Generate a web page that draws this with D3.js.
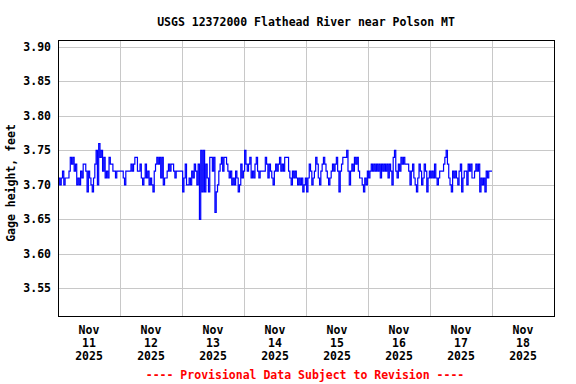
<!DOCTYPE html>
<html>
<head>
<meta charset="utf-8">
<script src="https://cdn.jsdelivr.net/npm/d3@7"></script>
<style>
  html, body { margin: 0; padding: 0; background: #fff; }
  svg { display: block; }
  text { font-family: "DejaVu Sans Mono", "Liberation Mono", monospace; font-weight: bold; font-size: 11.5px; fill: #000; }
</style>
</head>
<body>
<svg id="chart" width="576" height="384"></svg>
<script>
// ---- data (30-minute gage height readings, feet) ----
const startTime = "2025-11-11T00:00:00";
const nov11 = [3.70,3.71,3.70,3.71,3.72,3.70,3.71,3.71,3.71,3.72,
               3.74,3.73,3.74,3.72,3.73,3.70,3.71,3.70,3.72,3.71,
               3.73,3.73,3.72,3.69,3.72,3.71,3.70,3.69,3.71,3.73,
               3.75,3.70,3.76,3.74,3.75,3.72,3.74,3.71,3.72,3.71,
               3.74,3.73,3.73,3.72,3.72,3.71,3.72,3.72];
const nov12 = [3.72,3.72,3.72,3.71,3.70,3.72,3.72,3.72,3.72,3.73,
               3.72,3.73,3.74,3.74,3.72,3.72,3.73,3.71,3.70,3.71,
               3.73,3.71,3.72,3.70,3.71,3.70,3.69,3.72,3.73,3.74,
               3.73,3.74,3.71,3.74,3.70,3.71,3.71,3.72,3.73,3.72,
               3.73,3.73,3.72,3.71,3.72,3.72,3.72,3.72];
const nov13 = [3.72,3.69,3.71,3.73,3.70,3.70,3.71,3.70,3.72,3.71,
               3.73,3.72,3.70,3.73,3.65,3.75,3.69,3.75,3.69,3.73,
               3.71,3.69,3.74,3.74,3.72,3.74,3.66,3.69,3.70,3.72,
               3.73,3.74,3.72,3.74,3.74,3.73,3.72,3.71,3.72,3.70,
               3.71,3.70,3.72,3.71,3.69,3.70,3.73,3.71];
const nov14 = [3.72,3.75,3.73,3.72,3.73,3.74,3.71,3.72,3.71,3.73,
               3.74,3.72,3.71,3.72,3.72,3.72,3.72,3.74,3.73,3.71,
               3.73,3.72,3.71,3.70,3.72,3.73,3.72,3.73,3.74,3.72,
               3.73,3.72,3.74,3.74,3.74,3.72,3.71,3.70,3.72,3.71,
               3.72,3.71,3.70,3.71,3.70,3.71,3.69,3.70];
const nov15 = [3.71,3.69,3.71,3.73,3.72,3.70,3.71,3.72,3.74,3.73,
               3.71,3.70,3.72,3.73,3.74,3.73,3.72,3.71,3.70,3.71,
               3.72,3.73,3.72,3.73,3.74,3.72,3.69,3.72,3.73,3.74,
               3.74,3.74,3.75,3.72,3.70,3.72,3.73,3.72,3.74,3.73,
               3.74,3.72,3.71,3.71,3.70,3.69,3.71,3.70];
const nov16 = [3.72,3.71,3.72,3.73,3.72,3.73,3.72,3.73,3.72,3.73,
               3.71,3.73,3.72,3.73,3.72,3.73,3.71,3.73,3.72,3.70,
               3.74,3.75,3.72,3.71,3.73,3.72,3.74,3.73,3.74,3.73,
               3.73,3.73,3.72,3.70,3.72,3.73,3.71,3.70,3.69,3.71,
               3.73,3.72,3.70,3.71,3.73,3.72,3.69,3.71];
const nov17 = [3.72,3.71,3.72,3.71,3.73,3.71,3.70,3.71,3.72,3.72,
               3.72,3.73,3.74,3.75,3.73,3.71,3.70,3.69,3.72,3.71,
               3.72,3.71,3.70,3.72,3.73,3.69,3.71,3.72,3.72,3.70,
               3.73,3.72,3.73,3.71,3.71,3.72,3.73,3.72,3.73,3.69,
               3.71,3.70,3.71,3.69,3.72,3.71,3.72,3.72,3.72];

const yTicks = [3.55, 3.60, 3.65, 3.70, 3.75, 3.80, 3.85, 3.90];
const xMonths = ["Nov","Nov","Nov","Nov","Nov","Nov","Nov","Nov"];
const xDays   = ["11","12","13","14","15","16","17","18"];
const xYears  = ["2025","2025","2025","2025","2025","2025","2025","2025"];
const titleText = "USGS 12372000 Flathead River near Polson MT";
const yTitle = "Gage height, feet";
const footText = "---- Provisional Data Subject to Revision ----";

// ---- build series ----
const values = [].concat(nov11, nov12, nov13, nov14, nov15, nov16, nov17);
const t0 = new Date(startTime);
const series = values.map((v, i) => ({ t: new Date(t0.getTime() + i * 30 * 60000), v }));

// ---- layout ----
const W = 576, H = 384;
const m = { left: 58, right: 22, top: 40, bottom: 68 };
const svg = d3.select("#chart");

const x = d3.scaleTime()
  .domain([new Date("2025-11-11T00:00:00"), new Date("2025-11-19T00:00:00")])
  .range([m.left, W - m.right]);
const y = d3.scaleLinear()
  .domain([3.51, 3.91])
  .range([H - m.bottom, m.top]);

// grid
const dayLines = d3.range(1, 8).map(d => new Date(t0.getTime() + d * 86400000));
svg.append("g").selectAll("line").data(dayLines).join("line")
  .attr("x1", d => Math.round(x(d)) + 0.5).attr("x2", d => Math.round(x(d)) + 0.5)
  .attr("y1", m.top).attr("y2", H - m.bottom)
  .attr("stroke", "#c8c8c8").attr("stroke-width", 1);
svg.append("g").selectAll("line").data(yTicks).join("line")
  .attr("x1", m.left).attr("x2", W - m.right)
  .attr("y1", d => Math.round(y(d)) + 0.5).attr("y2", d => Math.round(y(d)) + 0.5)
  .attr("stroke", "#c8c8c8").attr("stroke-width", 1);

// data line
const line = d3.line().curve(d3.curveStep).x(d => x(d.t)).y(d => y(d.v));
svg.append("path").datum(series)
  .attr("d", line)
  .attr("fill", "none")
  .attr("stroke", "#0000ff")
  .attr("stroke-width", 1.2);

// frame
svg.append("rect")
  .attr("x", m.left + 0.5).attr("y", m.top + 0.5)
  .attr("width", W - m.left - m.right).attr("height", H - m.top - m.bottom)
  .attr("fill", "none").attr("stroke", "#000").attr("stroke-width", 1);

// y tick labels
svg.append("g").selectAll("text").data(yTicks).join("text")
  .attr("x", 51).attr("y", d => y(d) + 4)
  .attr("text-anchor", "end")
  .text(d => d3.format(".2f")(d));

// x tick labels (noon of each day)
const noon = xDays.map((d, i) => new Date(t0.getTime() + i * 86400000 + 43200000));
const xg = svg.append("g").selectAll("g").data(noon).join("g")
  .attr("transform", d => `translate(${x(d)},0)`);
xg.append("text").attr("y", 334).attr("text-anchor", "middle").text((d, i) => xMonths[i]);
xg.append("text").attr("y", 347).attr("text-anchor", "middle").text((d, i) => xDays[i]);
xg.append("text").attr("y", 360).attr("text-anchor", "middle").text((d, i) => xYears[i]);

// title
svg.append("text").attr("x", (m.left + W - m.right) / 2).attr("y", 26)
  .attr("text-anchor", "middle").text(titleText);

// y title
svg.append("text")
  .attr("transform", `translate(15,${(m.top + H - m.bottom) / 2 + 5}) rotate(-90)`)
  .attr("text-anchor", "middle").text(yTitle);

// footer
svg.append("text").attr("x", 305).attr("y", 379)
  .attr("text-anchor", "middle").style("fill", "#ff0000").text(footText);
</script>
</body>
</html>
